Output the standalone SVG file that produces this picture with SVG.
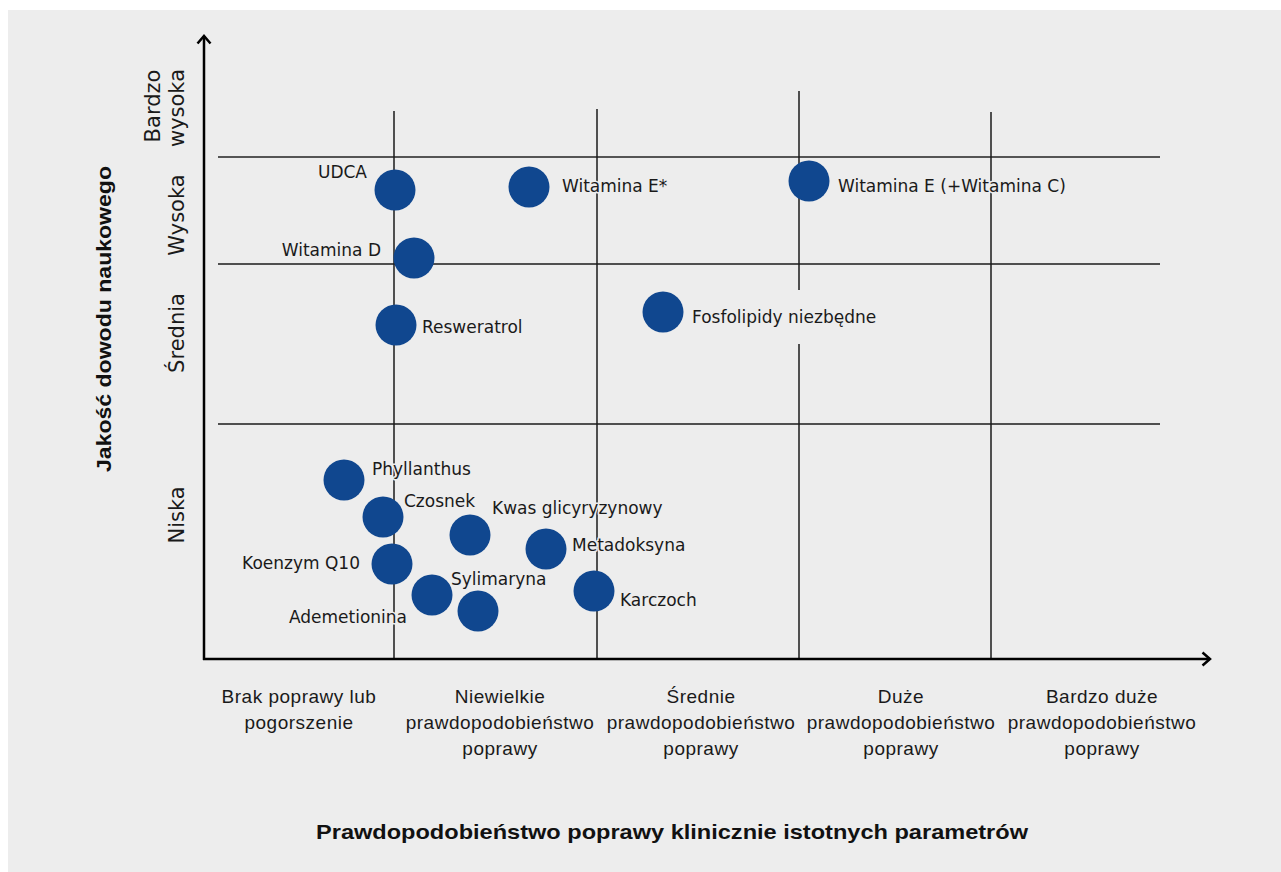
<svg xmlns="http://www.w3.org/2000/svg" width="1281" height="872" viewBox="0 0 1281 872">
  <defs>
    <style>
      .pt { fill: #10478f; }
      .lbl { font-family: "DejaVu Sans", "Noto Sans", sans-serif; font-size: 17px; fill: #1a1a1a; paint-order: stroke; stroke: #ededed; stroke-width: 3px; stroke-linejoin: round; }
      .end { text-anchor: end; }
      .cat { font-family: "DejaVu Sans", "Noto Sans", sans-serif; font-size: 21px; fill: #1a1a1a; text-anchor: middle; }
      .xcat { font-family: "Liberation Sans", Arial, sans-serif; font-size: 19px; letter-spacing: 0.5px; fill: #1a1a1a; text-anchor: middle; }
      .title { font-family: "Liberation Sans", Arial, sans-serif; font-size: 21px; font-weight: bold; fill: #111; text-anchor: middle; }
      .grid { stroke: #1a1a1a; stroke-width: 1.5; fill: none; }
      .gridtop { stroke: #555; stroke-width: 2; fill: none; }
      .axis { stroke: #000; stroke-width: 2.5; fill: none; }
    </style>
    <marker id="chev" viewBox="-10 -8 12 16" refX="0" refY="0" markerWidth="12" markerHeight="16" markerUnits="userSpaceOnUse" orient="auto" overflow="visible">
      <path d="M-7.5,-6.5 L0,0 L-7.5,6.5" fill="none" stroke="#000" stroke-width="2.5"/>
    </marker>
  </defs>

  <rect x="8" y="10" width="1273" height="862" fill="#ededed"/>

  <g id="connectors">
    <line class="gridtop" x1="218" y1="157" x2="1160" y2="157"/>
    <line class="grid" x1="218" y1="264" x2="1160" y2="264"/>
    <line class="grid" x1="218" y1="424" x2="1160" y2="424"/>
    <line class="grid" x1="394" y1="111" x2="394" y2="659"/>
    <line class="grid" x1="597" y1="109" x2="597" y2="659"/>
    <line class="grid" x1="799" y1="91" x2="799" y2="290"/>
    <line class="grid" x1="799" y1="344" x2="799" y2="659"/>
    <line class="grid" x1="991" y1="112" x2="991" y2="659"/>
    <line class="axis" x1="204" y1="660" x2="204" y2="36" marker-end="url(#chev)"/>
    <line class="axis" x1="203" y1="659" x2="1210" y2="659" marker-end="url(#chev)"/>
  </g>

  <g id="y-title">
    <text class="title" transform="translate(111,319) rotate(-90)" textLength="306" lengthAdjust="spacingAndGlyphs">Jakość dowodu naukowego</text>
  </g>
  <g id="x-title">
    <text class="title" x="672" y="839" textLength="712" lengthAdjust="spacingAndGlyphs">Prawdopodobieństwo poprawy klinicznie istotnych parametrów</text>
  </g>

  <g id="y-bardzo-wysoka">
    <text class="cat" transform="translate(160,106) rotate(-90)">Bardzo</text>
    <text class="cat" transform="translate(184,108) rotate(-90)">wysoka</text>
  </g>
  <g id="y-wysoka">
    <text class="cat" transform="translate(184,215) rotate(-90)">Wysoka</text>
  </g>
  <g id="y-srednia">
    <text class="cat" transform="translate(184,333) rotate(-90)">Średnia</text>
  </g>
  <g id="y-niska">
    <text class="cat" transform="translate(184,515) rotate(-90)">Niska</text>
  </g>

  <g id="x-brak">
    <text class="xcat" x="299" y="703">Brak poprawy lub</text>
    <text class="xcat" x="299" y="729">pogorszenie</text>
  </g>
  <g id="x-niewielkie">
    <text class="xcat" x="500" y="703">Niewielkie</text>
    <text class="xcat" x="500" y="729">prawdopodobieństwo</text>
    <text class="xcat" x="500" y="755">poprawy</text>
  </g>
  <g id="x-srednie">
    <text class="xcat" x="701" y="703">Średnie</text>
    <text class="xcat" x="701" y="729">prawdopodobieństwo</text>
    <text class="xcat" x="701" y="755">poprawy</text>
  </g>
  <g id="x-duze">
    <text class="xcat" x="901" y="703">Duże</text>
    <text class="xcat" x="901" y="729">prawdopodobieństwo</text>
    <text class="xcat" x="901" y="755">poprawy</text>
  </g>
  <g id="x-bardzo-duze">
    <text class="xcat" x="1102" y="703">Bardzo duże</text>
    <text class="xcat" x="1102" y="729">prawdopodobieństwo</text>
    <text class="xcat" x="1102" y="755">poprawy</text>
  </g>

  <g id="udca">
    <circle class="pt" cx="395" cy="190" r="20.5"/>
    <text class="lbl end" x="367" y="178">UDCA</text>
  </g>
  <g id="witamina-d">
    <circle class="pt" cx="414" cy="258" r="20.5"/>
    <text class="lbl end" x="381" y="256">Witamina D</text>
  </g>
  <g id="witamina-e-star">
    <circle class="pt" cx="529" cy="187" r="20.5"/>
    <text class="lbl" x="562" y="192">Witamina E*</text>
  </g>
  <g id="witamina-e-c">
    <circle class="pt" cx="809" cy="181" r="20.5"/>
    <text class="lbl" x="838" y="192">Witamina E (+Witamina C)</text>
  </g>
  <g id="resweratrol">
    <circle class="pt" cx="396" cy="325" r="20.5"/>
    <text class="lbl" x="422" y="333">Resweratrol</text>
  </g>
  <g id="fosfolipidy">
    <circle class="pt" cx="663" cy="312" r="20.5"/>
    <text class="lbl" x="692" y="323">Fosfolipidy niezbędne</text>
  </g>
  <g id="phyllanthus">
    <circle class="pt" cx="344" cy="480" r="20.5"/>
    <text class="lbl" x="372" y="475">Phyllanthus</text>
  </g>
  <g id="czosnek">
    <circle class="pt" cx="383" cy="517" r="20.5"/>
    <text class="lbl" x="404" y="507">Czosnek</text>
  </g>
  <g id="kwas">
    <circle class="pt" cx="470" cy="535" r="20.5"/>
    <text class="lbl" x="492" y="514">Kwas glicyryzynowy</text>
  </g>
  <g id="metadoksyna">
    <circle class="pt" cx="546" cy="549" r="20.5"/>
    <text class="lbl" x="572" y="551">Metadoksyna</text>
  </g>
  <g id="koenzym">
    <circle class="pt" cx="392" cy="564" r="20.5"/>
    <text class="lbl end" x="360" y="569">Koenzym Q10</text>
  </g>
  <g id="sylimaryna">
    <circle class="pt" cx="478" cy="611" r="20.5"/>
    <text class="lbl" x="451" y="585">Sylimaryna</text>
  </g>
  <g id="ademetionina">
    <circle class="pt" cx="432" cy="595" r="20.5"/>
    <text class="lbl end" x="407" y="623">Ademetionina</text>
  </g>
  <g id="karczoch">
    <circle class="pt" cx="594" cy="591" r="20.5"/>
    <text class="lbl" x="620" y="606">Karczoch</text>
  </g>
</svg>
